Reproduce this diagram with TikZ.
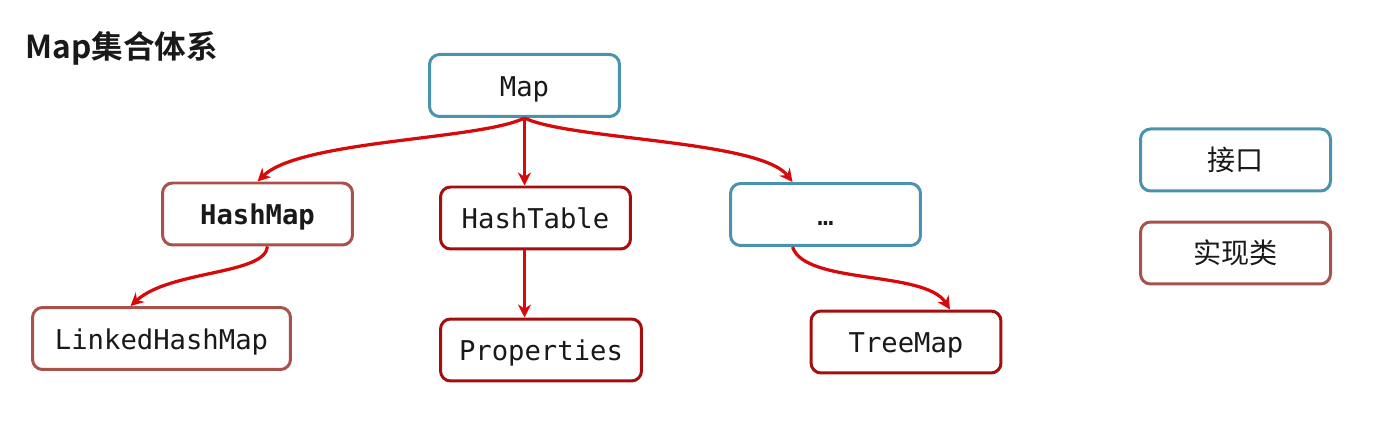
\documentclass[tikz,border=0pt]{standalone}
\usepackage{fontspec}
\setmonofont{DejaVu Sans Mono}
\newfontfamily\cjk{Noto Sans CJK SC}[BoldFont={Noto Sans CJK SC Bold}]
\usetikzlibrary{arrows.meta}
\definecolor{ifaceblue}{HTML}{4A93AE}
\definecolor{implred}{HTML}{A8524C}
\definecolor{classred}{HTML}{A30F0F}
\definecolor{arrowred}{HTML}{D60A0A}
\tikzset{%
    every node/.style={font=\ttfamily\fontsize{15.5}{18}\selectfont, text=black!90},
    box/.style={draw, rounded corners=0.2cm, line width=0.06cm, fill=white,
    	minimum width=3.8cm, minimum height=1.24cm, inner sep=0,
    	text height=12pt, text depth=0pt},
    iface/.style={box, draw=ifaceblue},
    impl/.style={box, draw=implred},
    cls/.style={box, draw=classred},
    legend/.style={font=\cjk\fontsize{16}{19}\selectfont},
    link/.style={draw=arrowred, line width=0.065cm,
    	-{Stealth[length=0.26cm, width=0.26cm]}}
}

\begin{document}
\begin{tikzpicture}[x=0.02cm, y=-0.02cm]
	\useasboundingbox (0,0) rectangle (1382,431);
	\node [anchor=west, inner sep=0, font=\cjk\bfseries\fontsize{18}{22}\selectfont] (title) at (25,48) {Map集合体系};
	% interfaces and classes
	\node [iface] (map) at (524.5,85.5) {Map};
	\node [impl, font=\ttfamily\bfseries\fontsize{15.5}{18}\selectfont] (hashmap) at (257.5,214) {HashMap};
	\node [cls] (hashtable) at (535.5,218) {HashTable};
	\node [iface] (dots) at (825.5,214.5) {…};
	\node [impl, minimum width=5.16cm] (linked) at (161.5,338.5) {LinkedHashMap};
	\node [cls, minimum width=4.02cm] (props) at (541,350) {Properties};
	\node [cls] (treemap) at (906,342) {TreeMap};
	% legend
	\node [iface, legend] (lgiface) at (1235.5,160) {接口};
	\node [impl, legend] (lgimpl) at (1235.5,253) {实现类};
	% links
	\draw [link] (map.south) .. controls (480,140) and (300,140) .. (hashmap.north);
	\draw [link] (map.south) -- (map.south |- hashtable.north);
	\draw [link] (map.south) .. controls (570,140) and (760,140) .. ([xshift=-0.66cm]dots.north);
	\draw [link] ([xshift=0.2cm]hashmap.south) .. controls (265,275) and (170,270) .. ([xshift=-0.62cm]linked.north);
	\draw [link] (hashtable.south -| map.south) -- (props.north -| map.south);
	\draw [link] ([xshift=-0.66cm]dots.south) .. controls (805,285) and (925,270) .. ([xshift=0.88cm]treemap.north);
\end{tikzpicture}
\end{document}
